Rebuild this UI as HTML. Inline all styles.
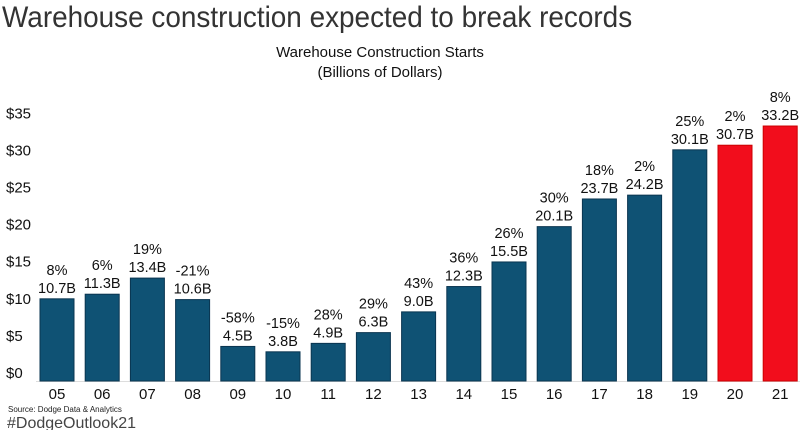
<!DOCTYPE html>
<html><head><meta charset="utf-8"><style>
body{margin:0;width:800px;height:430px;background:#fff;overflow:hidden;font-family:"Liberation Sans",sans-serif}
#title{position:absolute;left:2px;top:1px;font-size:30px;color:#333;white-space:nowrap;transform-origin:0 0;transform:scaleX(0.93)}
</style></head><body>
<div id="title">Warehouse construction expected to break records</div>
<svg id="c" width="800" height="430" style="position:absolute;left:0;top:0"></svg>
<script>
const categories=["05","06","07","08","09","10","11","12","13","14","15","16","17","18","19","20","21"];
const values=[10.7,11.3,13.4,10.6,4.5,3.8,4.9,6.3,9.0,12.3,15.5,20.1,23.7,24.2,30.1,30.7,33.2];
const pctLabels=["8%","6%","19%","-21%","-58%","-15%","28%","29%","43%","36%","26%","30%","18%","2%","25%","2%","8%"];
const forecast=[false,false,false,false,false,false,false,false,false,false,false,false,false,false,false,true,true];
const yTicks=[0,5,10,15,20,25,30,35];
const NS="http://www.w3.org/2000/svg";
const svg=document.getElementById('c');
const base=381,scale=7.68;
function y(v){return base-v*scale;}
function yl(t){return 378-t/5*37.1;}
function x(i){return 40+i*45.2;}
const bw=34;
function mk(t,a,txt){const e=document.createElementNS(NS,t);for(const k in a)e.setAttribute(k,a[k]);if(txt!==undefined)e.textContent=txt;svg.appendChild(e);return e;}
let e;
e=mk('text',{x:380,y:57,'text-anchor':'middle','font-size':15,fill:'#111'},'Warehouse Construction Starts');


e=mk('text',{x:380,y:77,'text-anchor':'middle','font-size':15,fill:'#111'},'(Billions of Dollars)');


yTicks.forEach(t=>{
 e=mk('text',{x:6,y:yl(t),'font-size':15,fill:'#111'},'$'+t);
 
 
});
e=mk('line',{x1:36,x2:800,y1:base+0.5,y2:base+0.5,stroke:'#ddd','stroke-width':1});


categories.forEach((c,i)=>{
 const v=values[i];
 e=mk('rect',{x:x(i),y:y(v),width:bw,height:v*scale,fill:forecast[i]?'#f20d1c':'#0f5274',stroke:forecast[i]?'#c00':'#0a3550','stroke-width':1});
 
 
 const cx=x(i)+bw/2;
 e=mk('text',{x:cx,y:y(v)-6,'text-anchor':'middle','font-size':14.5,fill:'#111'},v.toFixed(1)+'B');
 
 
 e=mk('text',{x:cx,y:y(v)-24,'text-anchor':'middle','font-size':14.5,fill:'#111'},pctLabels[i]);
 
 
 e=mk('text',{x:cx,y:399,'text-anchor':'middle','font-size':15,fill:'#111'},c);
 
 
});
e=mk('text',{x:8,y:412,'font-size':8,fill:'#222'},'Source: Dodge Data & Analytics');


e=mk('text',{x:7,y:428,'font-size':16,fill:'#444'},'#DodgeOutlook21');


</script>
</body></html>
